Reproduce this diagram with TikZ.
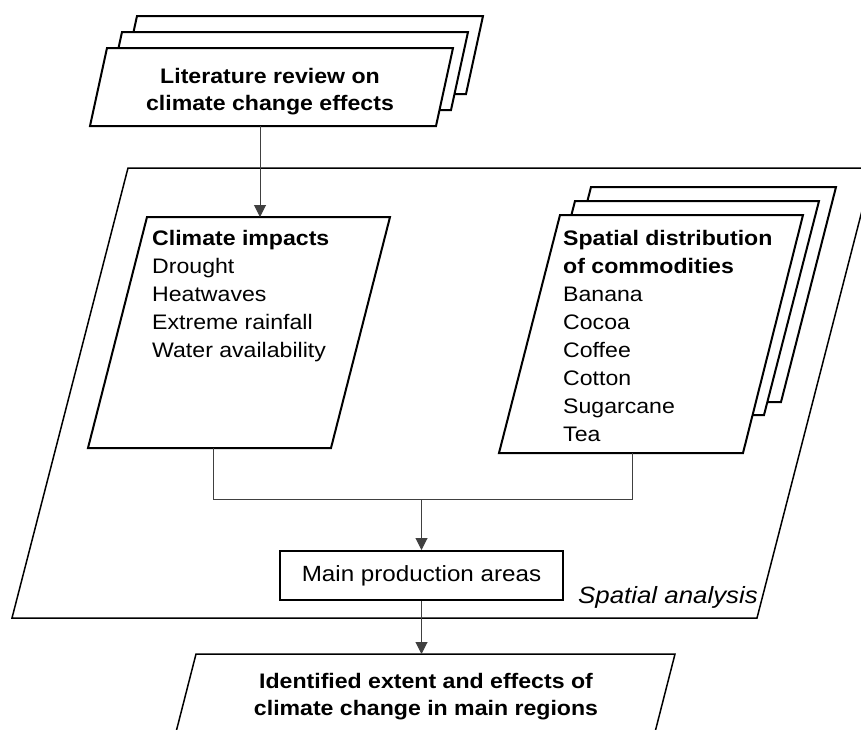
\documentclass[tikz,border=0pt]{standalone}
\usepackage{fontspec}
\setmainfont[FakeStretch=1.1]{Liberation Sans}
\usetikzlibrary{arrows.meta}
\tikzset{
  sheet/.style={draw=black, line width=2pt, fill=white, line join=miter},
  frame/.style={draw=black, line width=1.5pt, line join=miter},
  conn/.style={draw=black!75, line width=1pt},
  arr/.style={conn, -{Triangle[length=12pt,width=12pt]}},
  txt/.style={inner sep=0pt, align=left, font={\fontsize{21}{28}\selectfont}},
  boldtxt/.style={inner sep=0pt, align=center, font={\fontsize{21}{27.5}\selectfont\bfseries}},
}
\begin{document}
\begin{tikzpicture}[x=1pt,y=-1pt]
\useasboundingbox (0,0) rectangle (861,729);
\clip (0,0) rectangle (861,729);

% outer frame: spatial analysis
\draw[frame] (128,168) -- (873,168) -- (757,618) -- (12,618) -- cycle;
\node[anchor=base west, inner sep=0pt, font={\fontsize{23.5}{28}\selectfont\itshape}] (sa) at (578,603) {Spatial analysis};

% top stack: literature review
\draw[sheet] (137,16) -- (483,16) -- (466,94) -- (120,94) -- cycle;
\draw[sheet] (122,32) -- (468,32) -- (451,110) -- (105,110) -- cycle;
\draw[sheet] (107,48) -- (453,48) -- (436,126) -- (90,126) -- cycle;
\node[boldtxt, anchor=north] (lit) at (270,67) {\rule{0pt}{16pt}Literature review on\\climate change effects};

% climate impacts
\draw[sheet] (147,217) -- (390,217) -- (331,448) -- (88,448) -- cycle;
\node[txt, anchor=north west] (ci) at (152,229) {\rule{0pt}{16pt}\textbf{Climate impacts}\\Drought\\Heatwaves\\Extreme rainfall\\Water availability};

% commodities stack
\draw[sheet] (591,187) -- (836,187) -- (781,402) -- (536,402) -- cycle;
\draw[sheet] (575,201) -- (819,201) -- (764,415) -- (520,415) -- cycle;
\draw[sheet] (560,215) -- (803,215) -- (743,453) -- (499,453) -- cycle;
\node[txt, anchor=north west] (sd) at (563,229) {\rule{0pt}{16pt}\textbf{Spatial distribution}\\\textbf{of commodities}\\Banana\\Cocoa\\Coffee\\Cotton\\Sugarcane\\Tea};

% main production areas
\node[draw=black, line width=2pt, fill=white, minimum width=283pt, minimum height=49pt, inner sep=0pt,
      font={\fontsize{22}{26}\selectfont}] (mpa) at (421.5,575.5) {Main production areas};

% result
\draw[frame] (165.3,774) -- (196,654) -- (675,654) -- (644.3,774);
\node[boldtxt, anchor=north] (res) at (426,672) {\rule{0pt}{16pt}Identified extent and effects of\\climate change in main regions};

% connectors
\coordinate (litB) at (260,126);
\coordinate (ciT) at (260,217);
\coordinate (ciB) at (213,448);
\coordinate (sdB) at (632,453);
\coordinate (j1) at (213,499);
\coordinate (j2) at (632,499);
\coordinate (jm) at (421.5,499);
\coordinate (resT) at (435,654);

\draw[arr] (litB) -- (ciT);
\draw[conn] (ciB) -- (j1) -- (j2) -- (sdB);
\draw[arr] (jm) -- (mpa.north);
\draw[arr] (mpa.south) -- (mpa.south |- resT);
\end{tikzpicture}
\end{document}
